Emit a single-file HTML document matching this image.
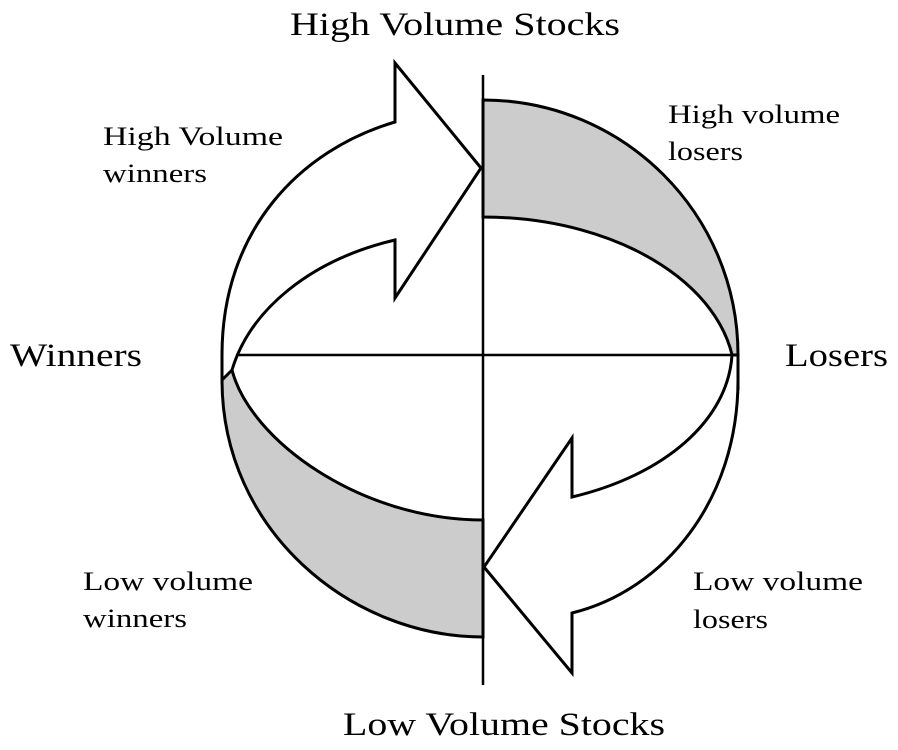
<!DOCTYPE html>
<html><head><meta charset="utf-8"><style>html,body{margin:0;padding:0;background:#fff}svg{display:block}text{font-family:"Liberation Serif","Times New Roman",serif}</style></head>
<body>
<svg width="898" height="750" viewBox="0 0 898 750" xmlns="http://www.w3.org/2000/svg" fill="#000">
<g stroke="#000" stroke-width="3" stroke-linejoin="miter">
<path d="M483,100 C624,100 738,214 738,355 L738,390 L735,380 C735,290 622,217 483,217 Z" fill="#cccccc"/>
<path d="M222,355 L222,380 C222,530 350,637 483,637 L483,520 C360,520 250,440 232,370 Z" fill="#cccccc"/>
<path d="M222,380 L222,355 C222,230 300,150 395,122 L395,63 L481,168 L395,298 L395,240 C310,260 250,310 232,370 Z" fill="#fff"/>
<path d="M738,380 C738,500 665,590 572,613 L572,673 L484,567 L572,438 L572,497 C665,475 728,420 732,355 L738,355 Z" fill="#fff"/>
<line x1="483" y1="75" x2="483" y2="685" stroke-width="2.5"/>
<line x1="236" y1="355" x2="738" y2="355" stroke-width="2.5"/>
</g>
<text x="290" y="35" font-size="33" textLength="330" lengthAdjust="spacingAndGlyphs">High Volume Stocks</text>
<text x="343" y="735" font-size="33" textLength="322" lengthAdjust="spacingAndGlyphs">Low Volume Stocks</text>
<text x="10" y="366" font-size="33" textLength="132" lengthAdjust="spacingAndGlyphs">Winners</text>
<text x="785" y="366" font-size="33" textLength="103" lengthAdjust="spacingAndGlyphs">Losers</text>
<text x="103" y="145" font-size="26" textLength="180" lengthAdjust="spacingAndGlyphs">High Volume</text>
<text x="103" y="182" font-size="26" textLength="104" lengthAdjust="spacingAndGlyphs">winners</text>
<text x="668" y="123" font-size="26" textLength="172" lengthAdjust="spacingAndGlyphs">High volume</text>
<text x="668" y="160" font-size="26" textLength="75" lengthAdjust="spacingAndGlyphs">losers</text>
<text x="83" y="590" font-size="26" textLength="170" lengthAdjust="spacingAndGlyphs">Low volume</text>
<text x="83" y="627" font-size="26" textLength="104" lengthAdjust="spacingAndGlyphs">winners</text>
<text x="693" y="590" font-size="26" textLength="170" lengthAdjust="spacingAndGlyphs">Low volume</text>
<text x="693" y="628" font-size="26" textLength="75" lengthAdjust="spacingAndGlyphs">losers</text>
</svg>
</body></html>
